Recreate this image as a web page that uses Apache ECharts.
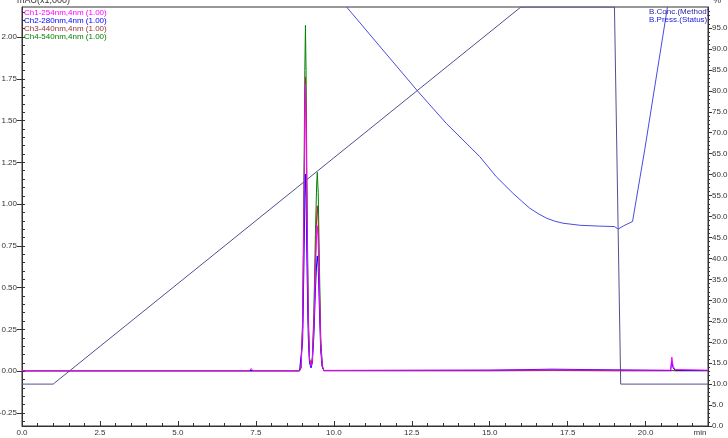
<!DOCTYPE html>
<html><head><meta charset="utf-8">
<script src="https://cdn.jsdelivr.net/npm/echarts@6/dist/echarts.min.js"></script>
<style>html,body{margin:0;padding:0;background:#fff}#c{width:728px;height:438px}</style>
</head><body><div id="c"></div>
<script>
// ---- data ----
const times = [0, 7.30, 7.35, 7.40, 8.90, 8.95, 9.00, 9.04, 9.07, 9.09, 9.11, 9.14, 9.18, 9.22, 9.27, 9.31, 9.36, 9.41, 9.45, 9.47, 9.50, 9.54, 9.58, 9.63, 9.68, 15.0, 17.0, 19.0, 20.80, 20.84, 20.88, 20.95, 22.0];
const ch1 = [0.004,0.004,0.016,0.004,0.004,0.02,0.26,0.9,1.5,1.72,1.5,0.9,0.3,0.07,0.03,0.06,0.26,0.6,0.82,0.87,0.78,0.45,0.15,0.03,0.005,0.006,0.008,0.006,0.006,0.085,0.03,0.01,0.006];
const ch2 = [0.003,0.003,0.01,0.003,0.003,0.014,0.18,0.62,1.03,1.18,1.03,0.62,0.21,0.05,0.02,0.05,0.21,0.48,0.65,0.69,0.62,0.36,0.12,0.025,0.004,0.006,0.012,0.008,0.004,0.06,0.02,0.006,0.004];
const ch3 = [0.002,0.002,0.006,0.002,0.002,0.02,0.27,0.92,1.53,1.76,1.53,0.92,0.31,0.07,0.03,0.07,0.29,0.68,0.93,0.99,0.89,0.51,0.17,0.03,0.003,0.003,0.004,0.003,0.003,0.01,0.004,0.003,0.003];
const ch4 = [0.002,0.002,0.006,0.002,0.002,0.024,0.31,1.08,1.8,2.07,1.8,1.08,0.36,0.08,0.035,0.08,0.35,0.82,1.12,1.19,1.07,0.62,0.2,0.035,0.003,0.003,0.004,0.003,0.003,0.01,0.004,0.003,0.003];
const concTimes = [0, 1.0, 16.0, 19.0, 19.2, 22.0];
const concValues = [10, 10, 100, 100, 10, 10];
const pressTimes = [10.41, 12.68, 13.61, 14.68, 15.21, 15.75, 16.02, 16.28, 16.55, 16.82, 17.08, 17.35, 17.9, 18.53, 19.0, 19.12, 19.3, 19.58, 19.97, 20.7];
const pressValues = [100, 80.0, 72.2, 64.3, 59.5, 55.5, 53.7, 52.0, 50.7, 49.6, 48.9, 48.4, 47.9, 47.7, 47.6, 47.0, 47.8, 48.8, 65.9, 100];
const xTicks = [0, 2.5, 5, 7.5, 10, 12.5, 15, 17.5, 20];
const leftTicks = [-0.25, 0, 0.25, 0.5, 0.75, 1, 1.25, 1.5, 1.75, 2];
const rightTicks = [0,5,10,15,20,25,30,35,40,45,50,55,60,65,70,75,80,85,90,95];
const names = ['Ch1-254nm,4nm (1.00)','Ch2-280nm,4nm (1.00)','Ch3-440nm,4nm (1.00)','Ch4-540nm,4nm (1.00)','B.Conc.(Method)','B.Press.(Status)'];
const colors = ['#ff00ff','#0000ff','#993333','#008000','#505090','#4a4ae0'];
const legendColors = ['#ff00ff','#0000ff','#993333','#008000','#2a2aa0','#2020e0'];

// minor tick positions
const xMinor = []; for (let i = 0; i <= 44; i++) xMinor.push(i * 0.5);
const leftMinor = []; for (let i = -6; i <= 43; i++) leftMinor.push(+(i * 0.05).toFixed(2));
const rightMinor = []; for (let i = 0; i <= 99; i++) rightMinor.push(i);

const zip = (a, b) => a.map((t, i) => [t, b[i]]);
const FONT = 'Liberation Sans, Arial, sans-serif';
const AX = '#333';

const chart = echarts.init(document.getElementById('c'), null, {renderer: 'canvas'});
const lineSeries = (idx, data, yi, z) => ({
  name: names[idx], type: 'line', data, xAxisIndex: 0, yAxisIndex: yi,
  showSymbol: false, symbol: 'none', clip: true, z: z,
  lineStyle: {color: colors[idx], width: 1}, itemStyle: {color: colors[idx]},
  emphasis: {disabled: true}, animation: false
});

chart.setOption({
  animation: false,
  grid: {left: 22, right: 20, top: 7, bottom: 12, show: true, borderColor: AX, borderWidth: 1,
         containLabel: false, outerBoundsMode: 'none'},
  legend: [
    {orient: 'vertical', left: 18, top: 8.5, icon: 'none', itemWidth: 1, itemHeight: 7, itemGap: 0, padding: 0,
     selectedMode: false, textStyle: {fontSize: 8, lineHeight: 7, fontFamily: FONT},
     data: [0,1,2,3].map(i => ({name: names[i], textStyle: {color: legendColors[i]}}))},
    {orient: 'vertical', left: 643, top: 7.5, icon: 'none', itemWidth: 1, itemHeight: 7, itemGap: 0, padding: 0,
     selectedMode: false, textStyle: {fontSize: 8, lineHeight: 7, fontFamily: FONT},
     data: [4,5].map(i => ({name: names[i], textStyle: {color: legendColors[i]}}))}
  ],
  xAxis: [
    {type: 'value', min: 0, max: 22, position: 'bottom',
     axisLine: {show: true, onZero: false, lineStyle: {color: AX}},
     axisTick: {show: true, inside: true, length: 5, customValues: xTicks, lineStyle: {color: AX}},
     axisLabel: {show: true, customValues: xTicks, margin: 3, fontSize: 8, color: AX, fontFamily: FONT,
                 formatter: v => v.toFixed(1)},
     splitLine: {show: false}},
    {type: 'value', min: 0, max: 22, position: 'bottom',
     axisLine: {show: false, onZero: false},
     axisTick: {show: true, inside: true, length: 3, customValues: xMinor, lineStyle: {color: AX}},
     axisLabel: {show: false}, splitLine: {show: false}}
  ],
  yAxis: [
    {type: 'value', min: -0.328, max: 2.18, position: 'left',
     axisLine: {show: true, onZero: false, lineStyle: {color: AX}},
     axisTick: {show: true, inside: false, length: 5, customValues: leftTicks, lineStyle: {color: AX}},
     axisLabel: {show: true, customValues: leftTicks, margin: 5, fontSize: 8, color: AX, fontFamily: FONT,
                 formatter: v => v.toFixed(2)},
     splitLine: {show: false}},
    {type: 'value', min: -0.328, max: 2.18, position: 'left',
     axisLine: {show: false, onZero: false},
     axisTick: {show: true, inside: true, length: 3, customValues: leftMinor, lineStyle: {color: AX}},
     axisLabel: {show: false}, splitLine: {show: false}},
    {type: 'value', min: 0, max: 100, position: 'right',
     axisLine: {show: true, onZero: false, lineStyle: {color: AX}},
     axisTick: {show: true, inside: false, length: 4, customValues: rightTicks, lineStyle: {color: AX}},
     axisLabel: {show: true, customValues: rightTicks, margin: 4, fontSize: 8, color: AX, fontFamily: FONT,
                 formatter: v => v.toFixed(1)},
     splitLine: {show: false}},
    {type: 'value', min: 0, max: 100, position: 'right',
     axisLine: {show: false, onZero: false},
     axisTick: {show: true, inside: false, length: 2, customValues: rightMinor, lineStyle: {color: AX}},
     axisLabel: {show: false}, splitLine: {show: false}}
  ],
  graphic: [
    {type: 'text', x: 17, y: 0.5, style: {text: 'mAU(x1,000)', fontSize: 9, fontFamily: FONT, fill: AX, align: 'left', verticalAlign: 'middle'}},
    {type: 'text', x: 713, y: 0.5, style: {text: '%', fontSize: 9, fontFamily: FONT, fill: AX, align: 'left', verticalAlign: 'middle'}},
    {type: 'text', x: 700, y: 433, style: {text: 'min', fontSize: 8, fontFamily: FONT, fill: AX, align: 'center', verticalAlign: 'middle'}}
  ],
  series: [
    lineSeries(4, zip(concTimes, concValues), 2, 2),
    lineSeries(5, zip(pressTimes, pressValues), 2, 2),
    lineSeries(3, zip(times, ch4), 0, 3),
    lineSeries(2, zip(times, ch3), 0, 4),
    lineSeries(1, zip(times, ch2), 0, 5),
    lineSeries(0, zip(times, ch1), 0, 6)
  ]
});
</script></body></html>
